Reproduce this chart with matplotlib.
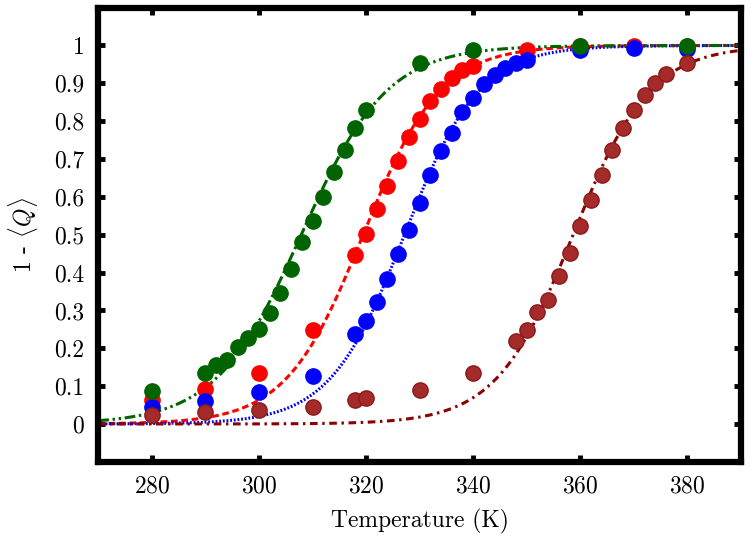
import numpy as np
import matplotlib
matplotlib.use('Agg')
import matplotlib.pyplot as plt

# unfolded fraction vs temperature, four systems
green_T = [280, 290, 292, 294, 296, 298, 300, 302, 304, 306, 308, 310,
           312, 314, 316, 318, 320, 330, 340, 360, 380]
green_y = [0.087, 0.136, 0.156, 0.169, 0.203, 0.227, 0.252, 0.294, 0.345,
           0.41, 0.481, 0.537, 0.6, 0.666, 0.724, 0.781, 0.829, 0.955,
           0.987, 0.998, 0.998]

red_T = [280, 290, 300, 310, 318, 320, 322, 324, 326, 328, 330, 332, 334,
         336, 338, 340, 350, 360, 370, 380]
red_y = [0.064, 0.093, 0.136, 0.248, 0.446, 0.503, 0.569, 0.63, 0.696,
         0.758, 0.805, 0.854, 0.885, 0.915, 0.934, 0.947, 0.987, 0.998,
         0.998, 0.998]

blue_T = [280, 290, 300, 310, 318, 320, 322, 324, 326, 328, 330, 332, 334,
          336, 338, 340, 342, 344, 346, 348, 350, 360, 370, 380]
blue_y = [0.044, 0.061, 0.085, 0.128, 0.237, 0.271, 0.322, 0.382, 0.449,
          0.512, 0.584, 0.659, 0.72, 0.77, 0.825, 0.862, 0.898, 0.921,
          0.941, 0.954, 0.962, 0.987, 0.993, 0.991]

brown_T = [280, 290, 300, 310, 318, 320, 330, 340, 348, 350, 352, 354, 356,
           358, 360, 362, 364, 366, 368, 370, 372, 374, 376, 380]
brown_y = [0.024, 0.031, 0.038, 0.046, 0.064, 0.068, 0.09, 0.136, 0.219,
           0.248, 0.297, 0.328, 0.39, 0.451, 0.522, 0.591, 0.659, 0.723,
           0.781, 0.829, 0.869, 0.9, 0.924, 0.954]

x_ticks = [280, 300, 320, 340, 360, 380]
y_ticks = [0, 0.1, 0.2, 0.3, 0.4, 0.5, 0.6, 0.7, 0.8, 0.9, 1]


# two-state (logistic) fit done on the logit of the transition-region points
def sigmoid_fit(T, y):
    T = np.array(T, dtype=float)
    y = np.array(y, dtype=float)
    m = (y > 0.15) & (y < 0.97)
    slope, icpt = np.polyfit(T[m], np.log(y[m] / (1 - y[m])), 1)
    return lambda t: 1.0 / (1.0 + np.exp(-(slope * t + icpt)))


plt.rcParams['font.family'] = 'serif'
plt.rcParams['font.serif'] = ['cmr10', 'DejaVu Serif']
plt.rcParams['mathtext.fontset'] = 'cm'
plt.rcParams['axes.formatter.use_mathtext'] = True

fig = plt.figure(figsize=(7.5, 5.44), dpi=100)
ax = fig.add_axes([0.131, 0.151, 0.857, 0.835])

tt = np.linspace(270, 390, 400)

series = [
    (red_T, red_y, '#ff0000', '#ff0000', '#ff0000', (0, (2.2, 1.2))),
    (blue_T, blue_y, '#0000ff', '#0000ff', '#0000ff', (0, (0.6, 0.6))),
    (brown_T, brown_y, '#8b0000', '#a52a2a', '#8b1a1a', (0, (2.5, 1.5, 0.8, 1.5))),
    (green_T, green_y, '#006400', '#006400', '#006400', (0, (3.5, 1.2, 0.8, 1.2, 0.8, 1.2))),
]

for T, y, lc, fc, ec, ls in series:
    f = sigmoid_fit(T, y)
    ax.plot(tt, f(tt), color=lc, lw=2.2, linestyle=ls, zorder=2)
for T, y, lc, fc, ec, ls in series:
    ax.plot(T, y, 'o', ms=11, mfc=fc, mec=ec, mew=1, zorder=3)

ax.set_xlim(270, 390)
ax.set_ylim(-0.1, 1.1)
ax.set_xticks(x_ticks)
ax.set_yticks(y_ticks)
ax.set_yticklabels(['%g' % v for v in y_ticks])
ax.tick_params(direction='in', length=5, width=3.5, top=True, right=True,
               labelsize=17, pad=10)
for s in ax.spines.values():
    s.set_linewidth(4.5)

ax.set_xlabel('Temperature (K)', fontsize=17, labelpad=8)
ax.set_ylabel(r'1 - $\langle Q \rangle$', fontsize=17, labelpad=10)

fig.savefig('out.png', dpi=100)
